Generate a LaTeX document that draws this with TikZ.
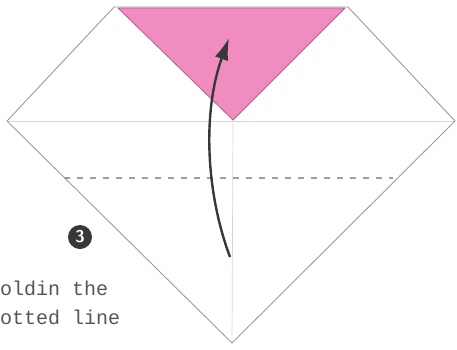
\documentclass[tikz,border=0pt]{standalone}
\usepackage{fontspec}
\setmonofont{Liberation Mono}
\usepackage{xcolor}
\usetikzlibrary{arrows.meta,calc}
\definecolor{flappink}{RGB}{240,140,192}
\definecolor{flapedge}{RGB}{175,95,140}
\definecolor{paperline}{RGB}{155,155,155}
\definecolor{creaseline}{RGB}{215,215,215}
\definecolor{textgray}{RGB}{85,85,85}

\begin{document}
\begin{tikzpicture}[x=1pt,y=-1pt,
    paper/.style={draw=paperline, line width=0.9pt, line join=round},
    crease/.style={draw=creaseline, line width=0.7pt},
    valley/.style={draw=paperline!80!flappink, line width=1.4pt, dash pattern=on 6pt off 7pt},
    foldarrow/.style={draw=black!78, line width=2.4pt, -{Latex[length=22pt,width=14pt]}},
    stepnum/.style={circle, fill=black!78, text=white, inner sep=0pt, minimum size=24pt, font=\sffamily\bfseries\fontsize{17}{17}\selectfont}]
    \useasboundingbox (0,0) rectangle (457,349);
    % corners of the folded paper
    \coordinate (tl) at (114,7);
    \coordinate (tr) at (348,7);
    \coordinate (lc) at (7,121);
    \coordinate (rc) at (455,121);
    \coordinate (bc) at (232,343);
    \coordinate (mc) at (233,120);
    % creases
    \draw[crease] (lc) -- (rc);
    \draw[crease] (mc) -- (bc);
    % outline
    \draw[paper] (tl) -- (tr) -- (rc) -- (bc) -- (lc) -- cycle;
    % flap already folded down
    \fill[flappink] (118,8) -- (345,8) -- (mc) -- cycle;
    \draw[flapedge, line width=0.8pt, line join=round] (118,8) -- (345,8) -- (mc) -- cycle;
    % dotted fold line
    \coordinate (dl) at (64,178);
    \coordinate (dr) at (393,178);
    \draw[valley] (dl) -- (dr);
    % arrow
    \coordinate (from) at (230,257);
    \coordinate (to) at (229,38);
    \draw[foldarrow] (from) .. controls (205,190) and (203,110) .. (to);
    % caption
    \node[stepnum] (num) at (80,237) {3};
    \node[anchor=north west, align=left, inner sep=0pt, text=textgray,
          font=\ttfamily\fontsize{20}{29}\selectfont] (cap) at (0,281) {oldin the\\otted line};
\end{tikzpicture}
\end{document}
